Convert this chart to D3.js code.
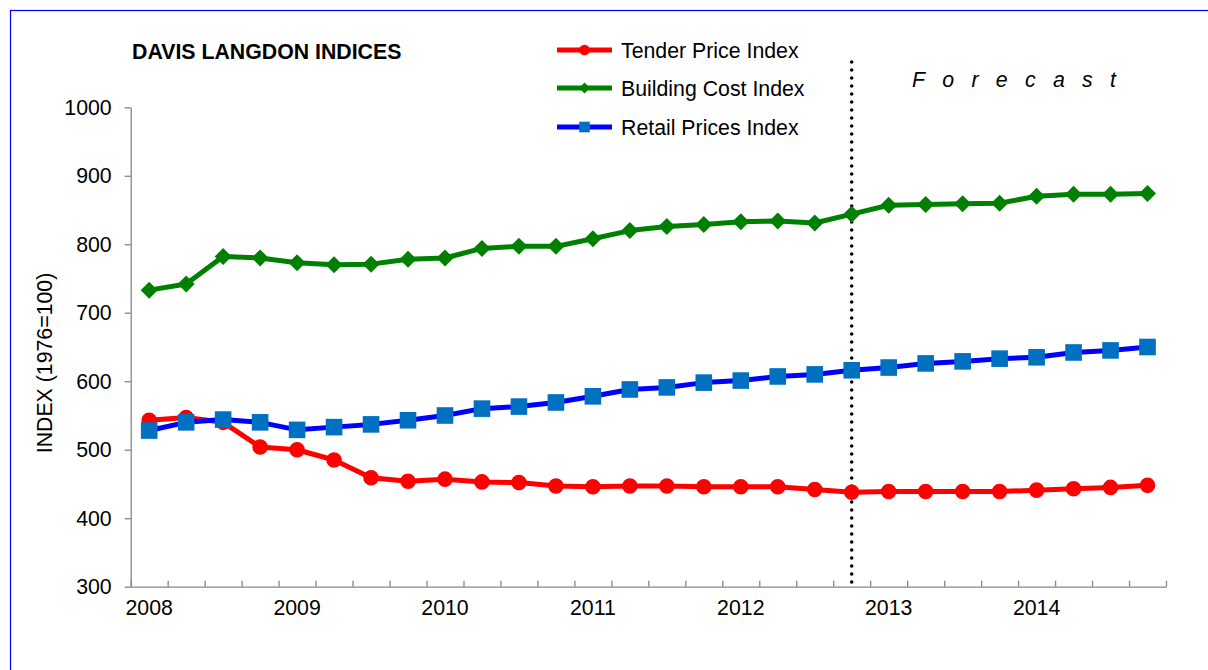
<!DOCTYPE html>
<html>
<head>
<meta charset="utf-8">
<script src="https://cdn.jsdelivr.net/npm/d3@7/dist/d3.min.js"></script>
<style>
  html, body { margin: 0; padding: 0; background: #fff; }
  svg { display: block; font-family: "Liberation Sans", Arial, sans-serif; }
</style>
</head>
<body>
<svg id="chart" width="1208" height="670"></svg>
<script>
// ---- data ----
const years = ["2008","2009","2010","2011","2012","2013","2014"];
const quarters = ["Q1","Q2","Q3","Q4"];
const categories = years.flatMap(y => quarters.map(q => y + " " + q));
const tenderPrice  = [543,547,540,504,500,485,459,454,457,453,452,447,446,447,447,446,446,446,442,438,439,439,439,439,441,443,445,448];
const buildingCost = [733,742,782,780,773,770,771,778,780,794,797,797,808,820,826,829,833,834,831,844,857,858,859,860,870,873,873,874];
const retailPrices = [528,540,544,540,529,533,537,543,550,560,563,569,578,588,591,598,601,607,610,616,620,626,629,633,635,642,645,650];
const yTicks = [300,400,500,600,700,800,900,1000];
const forecastStart = "2012 Q4";
const seriesNames = ["Tender Price Index","Building Cost Index","Retail Prices Index"];

// ---- layout ----
const svg = d3.select("#chart");
const L = 130.7, R = 1166, T = 107.3, B = 586.7;
const FONT = 21.3;

// blue frame
svg.append("rect").attr("x", 10.5).attr("y", 10.5).attr("width", 1300).attr("height", 1300)
  .attr("fill", "none").attr("stroke", "#0000FF").attr("stroke-width", 1.2);

const x = d3.scaleBand().domain(categories).range([L, R]).padding(0);
const xc = d => x(d) + x.bandwidth() / 2;
const xEdges = d3.scaleLinear().domain([0, categories.length]).range([L, R]);
const y = d3.scaleLinear().domain([300, 1000]).range([B, T]);

// y axis
const yAxis = svg.append("g").attr("transform", `translate(${L},0)`)
  .call(d3.axisLeft(y).tickValues(yTicks).tickSize(6).tickSizeOuter(0).tickPadding(13).tickFormat(d3.format("d")));
yAxis.select(".domain").attr("stroke", "#868686").attr("stroke-width", 1.3);
yAxis.selectAll(".tick line").attr("stroke", "#868686").attr("stroke-width", 1.3);
yAxis.selectAll("text").attr("font-size", FONT).attr("fill", "#000")
  .attr("font-family", "Liberation Sans, Arial, sans-serif");

// x axis: category boundary ticks pointing inward
const xAxis = svg.append("g").attr("transform", `translate(0,${B})`)
  .call(d3.axisBottom(xEdges).tickValues(d3.range(0, categories.length + 1)).tickSize(-6).tickSizeOuter(0).tickFormat(""));
xAxis.select(".domain").attr("stroke", "#868686").attr("stroke-width", 1.3);
xAxis.selectAll(".tick line").attr("stroke", "#868686").attr("stroke-width", 1.3);

// year labels at first-quarter centers
const xLab = svg.append("g").attr("transform", `translate(0,${B})`)
  .call(d3.axisBottom(x).tickValues(categories.filter(c => c.endsWith("Q1"))).tickSize(0).tickPadding(13)
    .tickFormat(d => d.split(" ")[0]));
xLab.select(".domain").remove();
xLab.selectAll("text").attr("font-size", FONT).attr("fill", "#000")
  .attr("font-family", "Liberation Sans, Arial, sans-serif");

// y axis title
svg.append("text").attr("transform", `translate(52,${(T + B) / 2 + 16}) rotate(-90)`)
  .attr("text-anchor", "middle").attr("font-size", FONT).attr("fill", "#000")
  .text("INDEX (1976=100)");

// title
svg.append("text").attr("x", 132).attr("y", 59).attr("font-size", 21.3).attr("font-weight", "bold")
  .attr("fill", "#000").text("DAVIS LANGDON INDICES");

// forecast divider
svg.append("line").attr("x1", xc(forecastStart)).attr("x2", xc(forecastStart))
  .attr("y1", 62).attr("y2", B)
  .attr("stroke", "#000").attr("stroke-width", 3.6).attr("stroke-linecap", "round")
  .attr("stroke-dasharray", "0 8");

svg.append("text").attr("x", 912).attr("y", 87).attr("font-size", FONT).attr("font-style", "italic")
  .attr("letter-spacing", 17.3).attr("fill", "#000").text("Forecast");

// series
const lineGen = vals => d3.line().x((d, i) => xc(categories[i])).y(d => y(d))(vals);

function drawSeries(vals, lineColor, marker) {
  const g = svg.append("g");
  g.append("path").attr("d", lineGen(vals)).attr("fill", "none")
    .attr("stroke", lineColor).attr("stroke-width", 5).attr("stroke-linejoin", "round");
  g.selectAll(".m").data(vals).enter().append("path")
    .attr("transform", (d, i) => `translate(${xc(categories[i])},${y(d)})`)
    .attr("d", marker.path).attr("fill", marker.fill);
}

const circleM = { path: d3.symbol().type(d3.symbolCircle).size(Math.PI * 7.8 * 7.8)(), fill: "#FF0000" };
const diamondM = { path: "M0,-8.5L8.5,0L0,8.5L-8.5,0Z", fill: "#008000" };
const squareM = { path: "M-8.3,-8.3H8.3V8.3H-8.3Z", fill: "#0070C0" };

drawSeries(tenderPrice, "#FF0000", circleM);
drawSeries(buildingCost, "#008000", diamondM);
drawSeries(retailPrices, "#0000FF", squareM);

// legend
const legend = [
  { name: seriesNames[0], color: "#FF0000", m: { path: d3.symbol().type(d3.symbolCircle).size(Math.PI * 5.3 * 5.3)(), fill: "#FF0000" }, cy: 50 },
  { name: seriesNames[1], color: "#008000", m: { path: "M0,-5.5L5.5,0L0,5.5L-5.5,0Z", fill: "#008000" }, cy: 88 },
  { name: seriesNames[2], color: "#0000FF", m: { path: "M-5.3,-5.3H5.3V5.3H-5.3Z", fill: "#0070C0" }, cy: 127 }
];
const lg = svg.append("g").selectAll("g").data(legend).enter().append("g");
lg.append("line").attr("x1", 557).attr("x2", 612).attr("y1", d => d.cy).attr("y2", d => d.cy)
  .attr("stroke", d => d.color).attr("stroke-width", 5);
lg.append("path").attr("transform", d => `translate(584.5,${d.cy})`).attr("d", d => d.m.path).attr("fill", d => d.m.fill);
lg.append("text").attr("x", 621).attr("y", d => d.cy + 7.5).attr("font-size", FONT).attr("fill", "#000").text(d => d.name);
</script>
</body>
</html>
